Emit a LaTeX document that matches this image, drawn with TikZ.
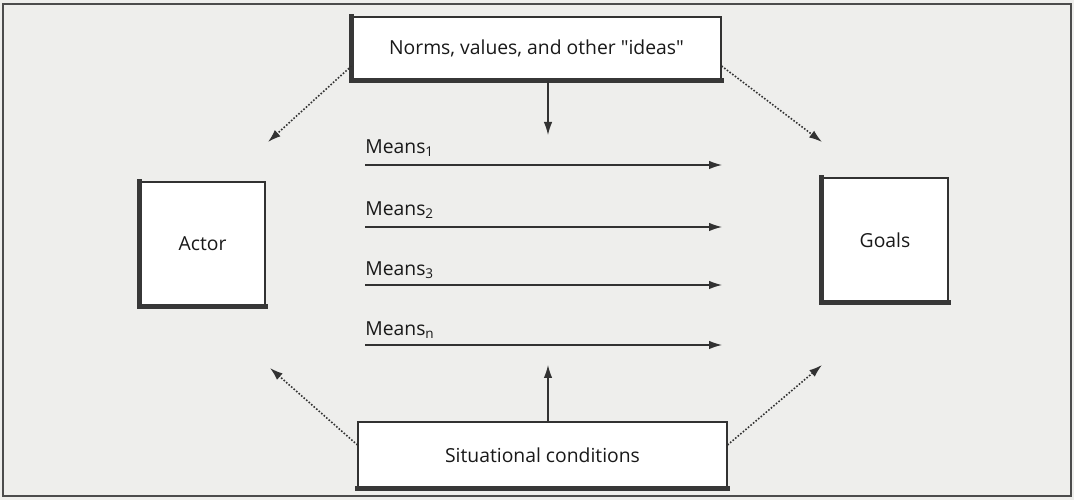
\documentclass[tikz,border=0pt]{standalone}
\usepackage{fontspec}
\setmainfont{Open Sans}
\usetikzlibrary{arrows.meta,positioning,backgrounds}
\definecolor{cPage}{RGB}{238,238,236}
\definecolor{cInk} {RGB}{ 50, 50, 50}
\definecolor{cHeavy}{RGB}{ 55, 55, 55}

\begin{document}
\begin{tikzpicture}[
  %% -- concept box ------------------------------------------------------
  B/.style={
    draw=cInk, fill=white, line width=0.6pt,
    minimum width=#1, align=center, inner sep=4pt,
    font=\fontsize{11}{13}\selectfont, text=black!90
  },
  %% -- heavy left/bottom edge ------------------------------------------
  H/.style={draw=cHeavy, line width=3pt, line cap=rect},
  %% -- solid arrow -----------------------------------------------------
  A/.style={-{Latex[length=2.6mm,width=1.7mm]}, line width=0.7pt, draw=cInk},
  %% -- dotted arrow ----------------------------------------------------
  D/.style={-{Latex[length=2.6mm,width=1.7mm]}, line width=0.9pt,
            densely dotted, draw=cInk},
  %% -- means label -----------------------------------------------------
  M/.style={anchor=west, inner sep=0pt,
            font=\fontsize{11}{13}\selectfont, text=black!90},
]

%% page
\fill[cPage] (0,0) rectangle (21.48,10);
\useasboundingbox (0,0) rectangle (21.48,10);
\draw[line width=1pt, draw=black!70] (0.06,0.08) rectangle (21.42,9.92);

%% ====================================================================
%%  BOXES
%% ====================================================================

\node[B=7.38cm, minimum height=1.26cm] (norms) at (10.73,9.03)
  {Norms, values, and other \textquotedbl ideas\textquotedbl};

\node[B=2.50cm, minimum height=2.48cm] (actor) at (4.05,5.12) {Actor};

\node[B=2.52cm, minimum height=2.48cm] (goals) at (17.70,5.20) {Goals};

\node[B=7.38cm, minimum height=1.32cm] (situ)  at (10.85,0.90)
  {Situational conditions};

%% heavy edges
\draw[H] (norms.north west) -- (norms.south west) -- (norms.south east);
\draw[H] (actor.north west) -- (actor.south west) -- (actor.south east);
\draw[H] (goals.north west) -- (goals.south west) -- (goals.south east);
\draw[H] (situ.south west)  -- (situ.south east);

%% ====================================================================
%%  MEANS
%% ====================================================================

\foreach \k/\lab/\ya/\yl in {1/1/6.70/7.04, 2/2/5.46/5.80,
                             3/3/4.30/4.60, n/n/3.10/3.40} {
  \node[M] (m\k) at (7.30,\yl) {Means\textsubscript{\lab}};
  \coordinate (ms\k) at (7.30,\ya);
  \coordinate (me\k) at (14.44,\ya);
  \draw[A] (ms\k) -- (me\k);
}

%% ====================================================================
%%  INFLUENCE ARROWS
%% ====================================================================

\coordinate (nd)  at (10.96,7.30);
\coordinate (su)  at (10.96,2.70);
\coordinate (nA)  at (5.36,7.16);
\coordinate (nG)  at (16.44,7.16);
\coordinate (sA)  at (5.40,2.64);
\coordinate (sG)  at (16.44,2.70);

\draw[A] (norms.south -| nd) -- (nd);
\draw[A] (situ.north -| su)  -- (su);

\draw[D] ([yshift=-0.35cm]norms.west) -- (nA);
\draw[D] ([yshift=-0.35cm]norms.east) -- (nG);
\draw[D] ([yshift=0.20cm]situ.west)   -- (sA);
\draw[D] ([yshift=0.20cm]situ.east)   -- (sG);

\end{tikzpicture}
\end{document}
